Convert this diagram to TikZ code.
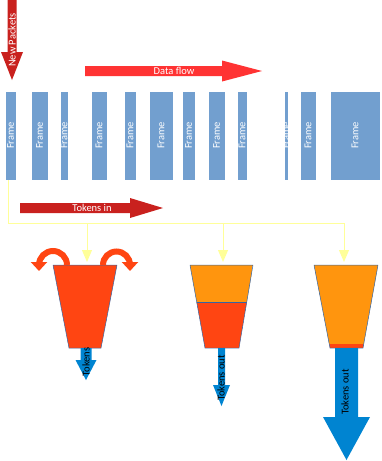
\documentclass[tikz,border=0pt]{standalone}
\usepackage{fontspec}
\setmainfont{Carlito}
\usepackage{tikz}
\usetikzlibrary{arrows.meta,calc}
\definecolor{framebl}{HTML}{729FCF}
\definecolor{darkred}{HTML}{C9211E}
\definecolor{flowred}{HTML}{FF3333}
\definecolor{tokred}{HTML}{FF4512}
\definecolor{tokorange}{HTML}{FF950E}
\definecolor{outblue}{HTML}{0084D1}
\definecolor{rim}{HTML}{3465A4}
\definecolor{feedyel}{HTML}{FFFF99}
\newcommand{\harrow}[7]{\fill[#7] (#1,{#4-#5}) -- (#2,{#4-#5}) -- (#2,{#4-#6}) -- (#3,#4) -- (#2,{#4+#6}) -- (#2,{#4+#5}) -- (#1,{#4+#5}) -- cycle;}
\newcommand{\varrow}[7]{\fill[#7] ({#4-#5},#1) -- ({#4-#5},#2) -- ({#4-#6},#2) -- (#4,#3) -- ({#4+#6},#2) -- ({#4+#5},#2) -- ({#4+#5},#1) -- cycle;}

\begin{document}
\begin{tikzpicture}[x=1pt,y=-1pt,
    font=\fontsize{10.5}{12}\selectfont,
    frame/.style={fill=framebl,draw=white,line width=0.3pt,inner sep=0pt,minimum height=89pt},
    frametext/.style={white,rotate=90,inner sep=0pt},
    arrowtext/.style={rotate=90,inner sep=0pt},
    feed/.style={feedyel,line width=1pt},
    curl/.style={tokred,line width=6pt,-{Triangle[width=16pt,length=9pt]}},
    rimline/.style={rim,line width=0.5pt,line join=round}]
  \useasboundingbox (0,0) rectangle (381,461);

  \foreach \l/\r [count=\i] in {5/16,31/48,60/68,91/107,124/136,149/173,182/195,208/225,237/247,284/288,300/316,330/380}{
    \node[frame,minimum width={\r-\l}] (f\i) at ({(\l+\r)/2},135.5) {};
    \node[frametext] (t\i) at (f\i.center) {Frame};
  }

  \varrow{0}{52}{80}{12}{4.5}{11}{darkred}
  \node[arrowtext,white] (newpk) at (12,40) {New Packets};
  \harrow{85}{222}{262}{71}{5}{10.5}{flowred}
  \node[white,inner sep=0pt] (flow) at (174,71) {Data flow};
  \harrow{20}{130}{163}{208}{5}{10}{darkred}
  \node[white,inner sep=0pt] (tokin) at (92,208) {Tokens in};

  \fill[tokred] (53,265) -- (117,265) -- (101,348) -- (69,348) -- cycle;
  \draw[rimline] (53,265) -- (117,265) -- (101,348) -- (69,348) -- cycle;
  \begin{scope}
    \clip (190,265) -- (253,265) -- (239,348) -- (205,348) -- cycle;
    \fill[tokorange] (190,265) rectangle (253,302);
    \fill[tokred] (190,302) rectangle (253,348);
    \draw[rimline] (190,302) -- (253,302);
  \end{scope}
  \draw[rimline] (190,265) -- (253,265) -- (239,348) -- (205,348) -- cycle;
  \begin{scope}
    \clip (314,265) -- (378,265) -- (363,348) -- (330,348) -- cycle;
    \fill[tokorange] (314,265) rectangle (378,344);
    \fill[tokred] (314,344) rectangle (378,348);
  \end{scope}
  \draw[rimline] (314,265) -- (378,265) -- (363,348) -- (330,348) -- cycle;

  \draw[curl] (67,265) arc[start angle=0,end angle=-180,radius=14] -- ++(0,6);
  \draw[curl] (103,265) arc[start angle=180,end angle=360,radius=13.5] -- ++(0,6);

  \coordinate (b1) at (87,262);
  \coordinate (b2) at (223,262);
  \coordinate (b3) at (344,262);
  \coordinate (bus) at (8,223);
  \draw[feed] ([xshift=-2.5pt]f1.south) -- (bus) -- (bus -| b3);
  \foreach \b in {b1,b2,b3}
    \draw[feed,-{Triangle[width=10pt,length=12pt]}] (bus -| \b) -- (\b);

  \varrow{348}{360}{380}{86}{5.5}{10.5}{outblue}
  \node[arrowtext] (out1) at (86,362) {Tokens};
  \varrow{348}{385}{406}{221.5}{3.5}{8.5}{outblue}
  \node[arrowtext] (out2) at (221,378) {Tokens out};
  \varrow{348}{417}{460}{346.5}{11.5}{23.5}{outblue}
  \node[arrowtext] (out3) at (345,392) {Tokens out};
\end{tikzpicture}
\end{document}
